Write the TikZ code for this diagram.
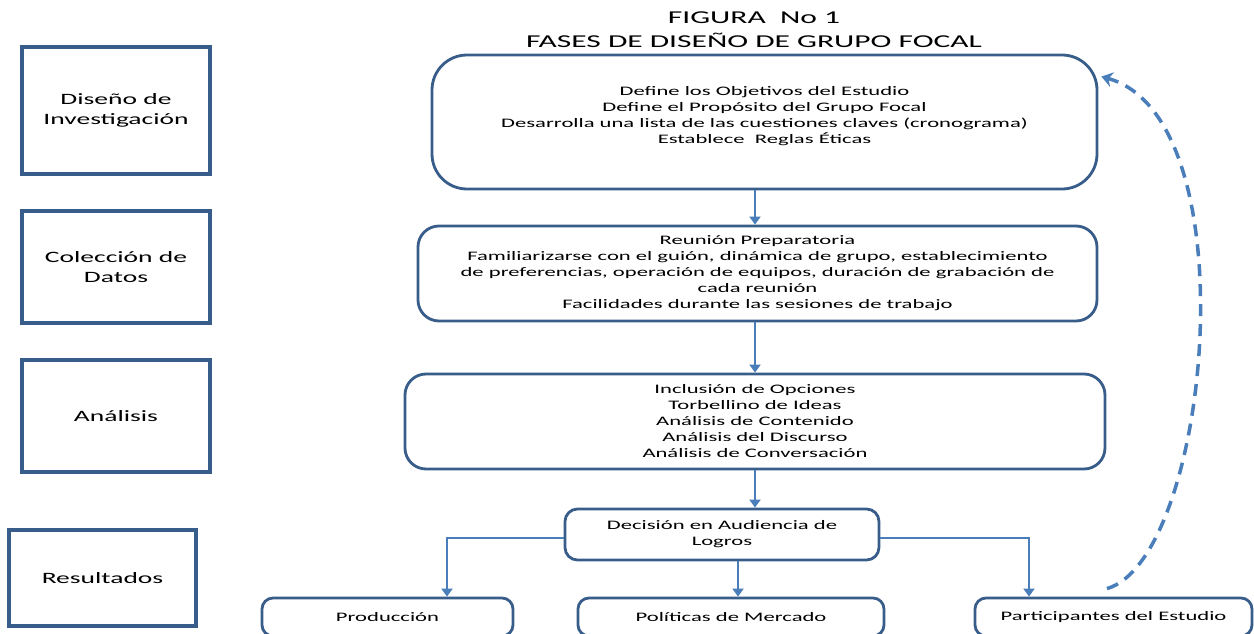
\documentclass[tikz,border=0pt]{standalone}
\usepackage{fontspec}
\setmainfont{Carlito}[FakeStretch=1.74]
\usepackage{tikz}
\usetikzlibrary{arrows.meta,positioning,calc}
\definecolor{boxblue}{RGB}{56,93,138}
\definecolor{linkblue}{RGB}{74,126,187}
\tikzset{
    phase/.style={draw=boxblue, line width=2.2pt, minimum width=3.76cm, minimum height=2.24cm, align=center, font=\fontsize{9}{11.3}\selectfont},
    stage/.style={draw=boxblue, line width=1.6pt, rounded corners=0.42cm, align=center, font=\fontsize{7.4}{9.1}\selectfont},
    outcome/.style={draw=boxblue, line width=1.6pt, rounded corners=0.22cm, minimum height=0.76cm, font=\fontsize{7.4}{9.1}\selectfont},
    flow/.style={draw=linkblue, line width=1.6pt, -{Triangle[width=0.22cm,length=0.16cm]}},
    feedback/.style={draw=linkblue, line width=2pt, dash pattern=on 0.24cm off 0.16cm, -{Stealth[width=0.3cm,length=0.22cm]}},
    heading/.style={align=center, font=\fontsize{10.3}{13.6}\selectfont},
}

\begin{document}
\begin{tikzpicture}
    \useasboundingbox (0,0) rectangle (25.08,12.66);
    \clip (0,0) rectangle (25.08,12.66);

    % Title
    \node[heading] (T) at (15.08,12.06) {FIGURA\ \ No 1\\FASES DE DISEÑO DE GRUPO FOCAL};

    % Phases on the left
    \node[phase, minimum height=2.54cm] (D1) at (2.32,10.45) {Diseño de\\Investigación};
    \node[phase] (D2) at (2.32,7.32) {Colección de\\Datos};
    \node[phase] (D3) at (2.32,4.34) {Análisis};
    \node[phase, minimum width=3.74cm, minimum height=1.92cm] (D4) at (2.05,1.10) {Resultados};

    % Steps
    \node[stage, minimum width=13.3cm, minimum height=2.68cm, rounded corners=0.7cm] (R1) at (15.29,10.22)
        {Define los Objetivos del Estudio\\Define el Propósito del Grupo Focal\\
         Desarrolla una lista de las cuestiones claves (cronograma)\\Establece\ \ Reglas Éticas\\[-0.04cm]};
    \node[stage, minimum width=13.58cm, minimum height=1.9cm] (R2) at (15.15,7.19)
        {Reunión Preparatoria\\Familiarizarse con el guión, dinámica de grupo, establecimiento\\
         de preferencias, operación de equipos, duración de grabación de\\cada reunión\\
         Facilidades durante las sesiones de trabajo};
    \node[stage, minimum width=14cm, minimum height=1.9cm] (R3) at (15.1,4.23)
        {Inclusión de Opciones\\Torbellino de Ideas\\Análisis de Contenido\\Análisis del Discurso\\Análisis de Conversación};
    \node[stage, minimum width=6.28cm, minimum height=1.02cm, rounded corners=0.25cm] (R4) at (14.44,1.97)
        {Decisión en Audiencia de\\Logros};

    % Outcomes
    \node[outcome, minimum width=5.02cm] (P1) at (7.75,0.32) {Producción};
    \node[outcome, minimum width=6.12cm] (P2) at (14.62,0.32) {Políticas de Mercado};
    \node[outcome, minimum width=5.54cm] (P3) at (22.27,0.32) {Participantes del Estudio};

    % Connectors
    \draw[flow] (R1.south -| R3) -- (R2.north -| R3);
    \draw[flow] (R2.south -| R3) -- (R3.north);
    \draw[flow] (R3.south) -- (R3.south |- R4.north);
    \draw[flow] ([yshift=-0.07cm]R4.west) -| ([xshift=1.19cm]P1.north);
    \draw[flow] ([xshift=0.14cm]P2.north |- R4.south) -- ([xshift=0.14cm]P2.north);
    \draw[flow] ([yshift=-0.07cm]R4.east) -| ([xshift=-1.69cm]P3.north);

    % Feedback loop
    \draw[feedback] ([xshift=-0.13cm,yshift=0.16cm]P3.north) .. controls +(2.06,0.6) and +(3.0,-0.84) .. ([xshift=0.06cm,yshift=-0.46cm]R1.north east);
\end{tikzpicture}
\end{document}
